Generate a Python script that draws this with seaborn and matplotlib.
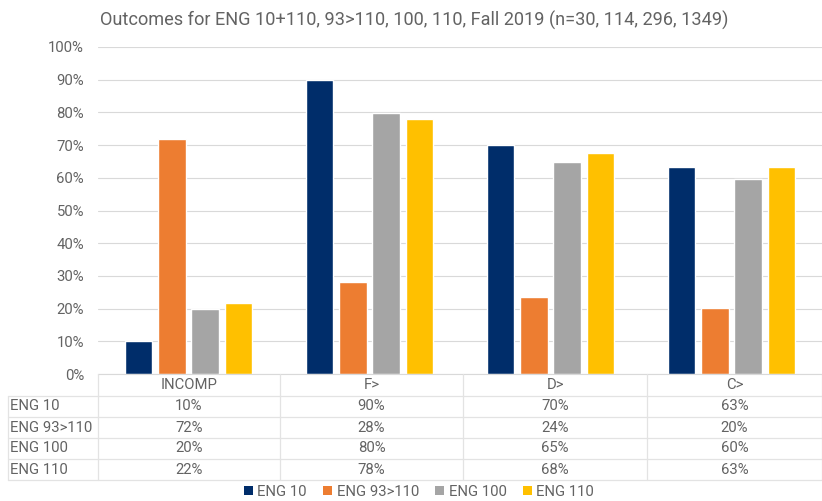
import numpy as np
import pandas as pd
import matplotlib
matplotlib.use('Agg')
import matplotlib.pyplot as plt
import seaborn as sns
from matplotlib.lines import Line2D
from matplotlib.patches import Patch

# data
outcomes = ['INCOMP', 'F>', 'D>', 'C>']
courses = ['ENG 10', 'ENG 93>110', 'ENG 100', 'ENG 110']
eng10 = [10.0, 90.0, 70.0, 63.3]
eng93 = [72.0, 28.0, 23.6, 20.2]
eng100 = [20.0, 79.7, 64.9, 59.7]
eng110 = [21.7, 78.0, 67.7, 63.3]
colors = ['#002D6A', '#ED7D31', '#A5A5A5', '#FFC000']
title = 'Outcomes for ENG 10+110, 93>110, 100, 110, Fall 2019 (n=30, 114, 296, 1349)'

sns.set_style('white')
plt.rcParams['font.family'] = ['Roboto', 'DejaVu Sans']
txt = '#636363'
grid = '#D9D9D9'
fs = 10.7

df = pd.DataFrame({
    'outcome': np.tile(outcomes, 4),
    'course': np.repeat(courses, 4),
    'value': eng10 + eng93 + eng100 + eng110,
})

fig = plt.figure(figsize=(8.22, 5.01), dpi=100)
ax = fig.add_axes([98 / 822, 127 / 501, 724 / 822, 327 / 501])
sns.barplot(data=df, x='outcome', y='value', hue='course', order=outcomes,
            hue_order=courses, palette=colors, width=0.73, gap=0.18,
            ax=ax, legend=False, saturation=1)
ax.set_xlim(-0.5, 3.5)
ax.set_ylim(0, 100)
ax.set_yticks(np.arange(0, 101, 10))
ax.set_yticklabels([f'{v}%' for v in range(0, 101, 10)], color=txt, fontsize=fs)
ax.tick_params(axis='y', length=0, pad=10)
ax.set_xticks([])
ax.set_xlabel('')
ax.set_ylabel('')
ax.yaxis.grid(True, color=grid, lw=0.8)
ax.set_axisbelow(True)
for s in ['top', 'right', 'left']:
    ax.spines[s].set_visible(False)
ax.spines['bottom'].set_color(grid)

fig.text(100 / 822, 1 - 20 / 501, title, fontsize=13.1, color=txt, va='center', ha='left')

# data table under the axis
def fx(px):
    return px / 822

def fy(py):
    return 1 - py / 501

col_edges = [98, 280, 463, 647, 822]
row_edges = [374, 396, 417, 438, 459, 480]
lc = '#E3E3E3'
for y in row_edges[1:]:
    fig.add_artist(Line2D([fx(8), fx(822)], [fy(y), fy(y)], color=lc, lw=0.9))
for x in col_edges:
    fig.add_artist(Line2D([fx(x), fx(x)], [fy(374), fy(480)], color=lc, lw=0.9))
fig.add_artist(Line2D([fx(8), fx(8)], [fy(396), fy(480)], color=lc, lw=0.9))

for i, lab in enumerate(outcomes):
    cx = (col_edges[i] + col_edges[i + 1]) / 2
    fig.text(fx(cx), fy(385), lab, ha='center', va='center', fontsize=fs, color=txt)
series = [eng10, eng93, eng100, eng110]
for r, (name, vals) in enumerate(zip(courses, series)):
    cy = (row_edges[r + 1] + row_edges[r + 2]) / 2
    fig.text(fx(10), fy(cy), name, ha='left', va='center', fontsize=fs, color=txt)
    for i, v in enumerate(vals):
        cx = (col_edges[i] + col_edges[i + 1]) / 2
        fig.text(fx(cx), fy(cy), f'{v:.0f}%', ha='center', va='center', fontsize=fs, color=txt)

handles = [Patch(facecolor=c, edgecolor='none') for c in colors]
fig.legend(handles, courses, loc='center', bbox_to_anchor=(fx(419), fy(492)), ncol=4,
           frameon=False, fontsize=fs, labelcolor=txt, handlelength=0.6, handleheight=0.6,
           handletextpad=0.3, columnspacing=1.1)

fig.savefig('out.png', dpi=100)
